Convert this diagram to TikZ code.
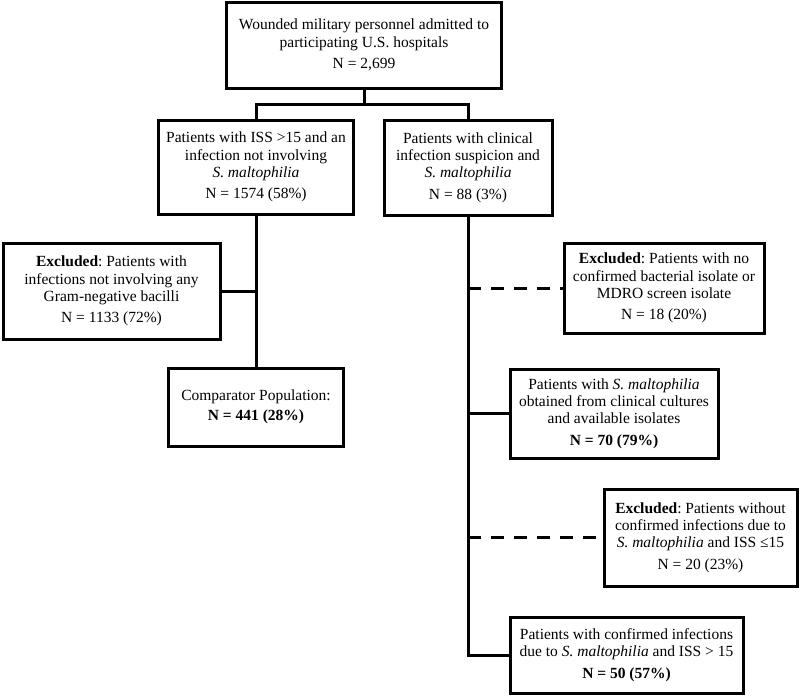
\documentclass[tikz,border=0pt]{standalone}
\usepackage{fontspec}
\setmainfont{Liberation Serif}
\frenchspacing
\begin{document}
\begin{tikzpicture}[x=1pt,y=-1pt,
  box/.style={draw=black,line width=3pt,rectangle,align=center,inner sep=0pt,font=\fontsize{15.5}{17.2}\selectfont\frenchspacing},
  link/.style={line width=3pt},
  dlink/.style={line width=3pt,dash pattern=on 13pt off 10pt}]
\useasboundingbox[fill=white] (0,0) rectangle (800,696);
\node[box,minimum width=275pt,minimum height=86pt] (top) at (364,45)
  {Wounded military personnel admitted to\\participating U.S. hospitals\\[4pt]N = 2,699};
\node[box,minimum width=195pt,minimum height=94pt] (b2) at (256,167)
  {Patients with ISS >15 and an\\infection not involving\\\textit{S. maltophilia}\\[4pt]N = 1574 (58\%)};
\node[box,minimum width=168pt,minimum height=95pt] (b3) at (468,167.5)
  {Patients with clinical\\infection suspicion and\\\textit{S. maltophilia}\\[4pt]N = 88 (3\%)};
\node[box,minimum width=217pt,minimum height=96pt] (exL) at (111.5,291)
  {\textbf{Excluded}: Patients with\\infections not involving any\\Gram-negative bacilli\\[4pt]N = 1133 (72\%)};
\node[box,minimum width=175pt,minimum height=78pt] (comp) at (256,407)
  {Comparator Population:\\[3pt]\textbf{N = 441 (28\%)}};
\node[box,minimum width=200pt,minimum height=90pt] (exR1) at (664,288)
  {\textbf{Excluded}: Patients with no\\confirmed bacterial isolate or\\MDRO screen isolate\\[4pt]N = 18 (20\%)};
\node[box,minimum width=208pt,minimum height=89pt] (b70) at (614,413.5)
  {Patients with \textit{S. maltophilia}\\obtained from clinical cultures\\and available isolates\\[4pt]\textbf{N = 70 (79\%)}};
\node[box,minimum width=193pt,minimum height=97pt] (exR2) at (700.5,537.5)
  {\textbf{Excluded}: Patients without\\confirmed infections due to\\\textit{S. maltophilia} and ISS ≤15\\[4pt]N = 20 (23\%)};
\node[box,minimum width=233pt,minimum height=76pt] (fin) at (626.5,655)
  {Patients with confirmed infections\\due to \textit{S. maltophilia} and ISS > 15\\[4pt]\textbf{N = 50 (57\%)}};
\coordinate (j) at (364,104);
\draw[link] (top.south) -- (j);
\draw[link] (b2.north) |- (j) -| (b3.north);
\draw[link] (b2.south) -- (comp.north);
\draw[link] (exL.east) -- (exL.east -| b2.south);
\draw[link] (b3.south) |- (fin.west);
\draw[link] (b70.west) -- (b70.west -| b3.south);
\draw[dlink] (exR1.west -| b3.south) -- (exR1.west);
\draw[dlink] (exR2.west -| b3.south) -- (exR2.west);
\end{tikzpicture}
\end{document}
